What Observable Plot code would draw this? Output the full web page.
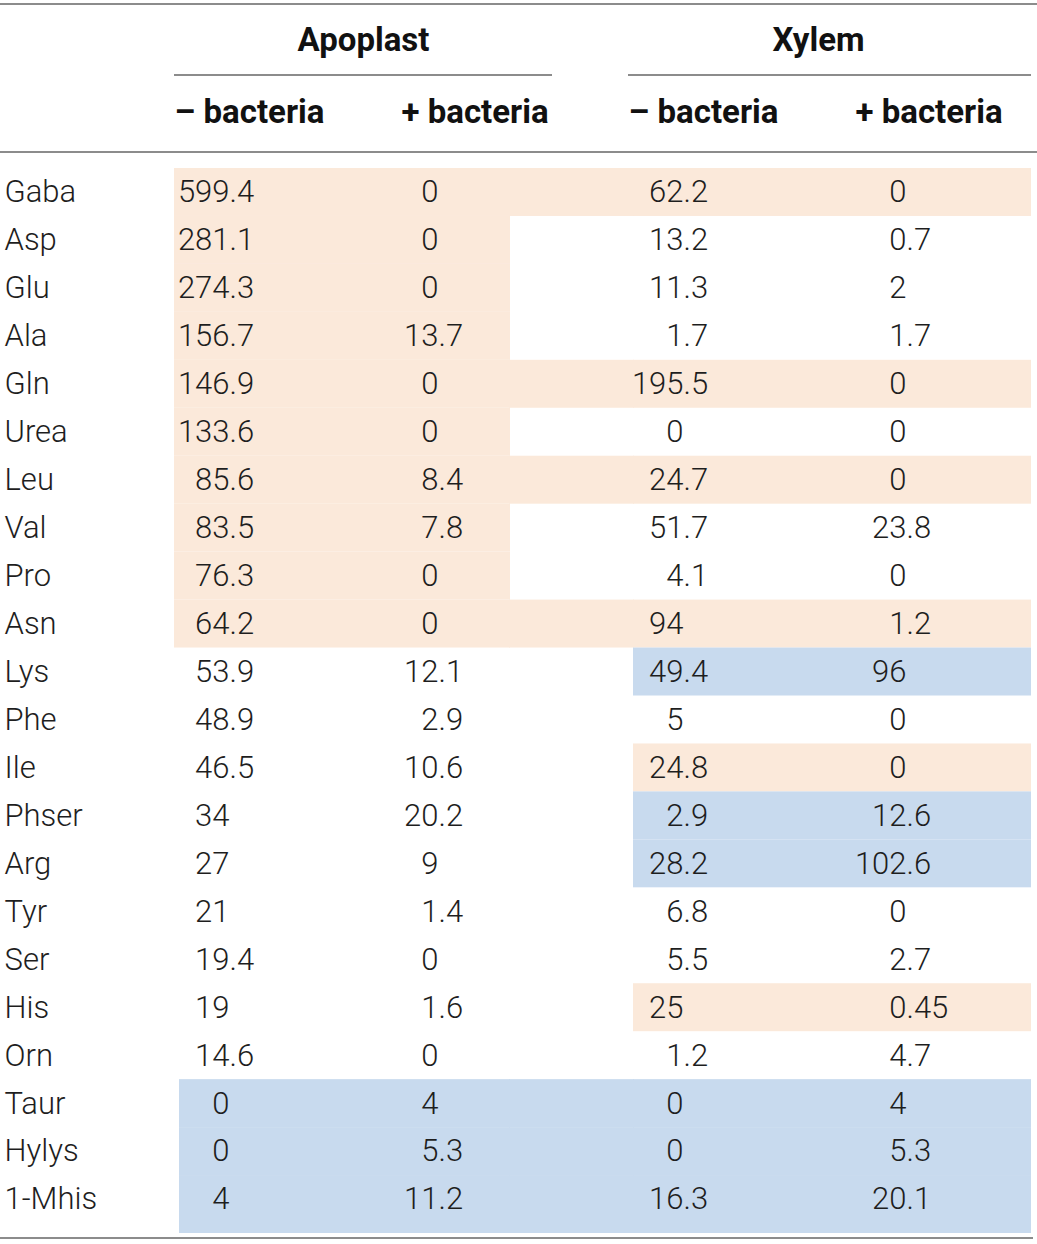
<!DOCTYPE html>
<html><head><meta charset="utf-8">
<script src="https://cdn.jsdelivr.net/npm/d3@7"></script>
<script src="https://cdn.jsdelivr.net/npm/@observablehq/plot@0.6"></script>
<style>body{margin:0;background:#fff;} svg{display:block;}</style>
</head><body><div id="chart"></div>
<script>
// ---- data ----
const aminoAcids = ["Gaba","Asp","Glu","Ala","Gln","Urea","Leu","Val","Pro","Asn","Lys","Phe","Ile","Phser","Arg","Tyr","Ser","His","Orn","Taur","Hylys","1-Mhis"];
const apoplastMinus = [599.4,281.1,274.3,156.7,146.9,133.6,85.6,83.5,76.3,64.2,53.9,48.9,46.5,34,27,21,19.4,19,14.6,0,0,4];
const apoplastPlus  = [0,0,0,13.7,0,0,8.4,7.8,0,0,12.1,2.9,10.6,20.2,9,1.4,0,1.6,0,4,5.3,11.2];
const xylemMinus    = [62.2,13.2,11.3,1.7,195.5,0,24.7,51.7,4.1,94,49.4,5,24.8,2.9,28.2,6.8,5.5,25,1.2,0,0,16.3];
const xylemPlus     = [0,0.7,2,1.7,0,0,0,23.8,0,1.2,96,0,0,12.6,102.6,0,2.7,0.45,4.7,4,5.3,20.1];
const apoplastShade = ["peach","peach","peach","peach","peach","peach","peach","peach","peach","peach","","","","","","","","","","blue","blue","blue"];
const xylemShade    = ["peach","","","","peach","","peach","","","peach","blue","","peach","blue","blue","","","peach","","blue","blue","blue"];
const groups = ["Apoplast","Xylem"];
const treatments = ["– bacteria","+ bacteria"];

// ---- layout / style ----
const W = 1037, H = 1244;
const shadeColor = {peach: "#fbe9da", blue: "#c8daee"};
const shadeStart = {peach: 174, blue: 179};
const ruleColor = "#8c8c8c";
const FONT = "Roboto, 'Liberation Sans', sans-serif";
const BODY = 31, HEAD = 33;
const colKeys = ["apoMinus","apoPlus","xylMinus","xylPlus"];
const colSeries = [apoplastMinus, apoplastPlus, xylemMinus, xylemPlus];
const decimalX = {apoMinus: 229, apoPlus: 438, xylMinus: 683, xylPlus: 906};
const subHeadX = [174, 401, 628, 855];
const groupSpan = {Apoplast: [174, 552], Xylem: [628, 1031]};
const groupCenter = {Apoplast: 363, Xylem: 818};
const shadeSpan = {Apoplast: [174, 510], Xylem: [633, 1031], bridge: [509, 634]};

const cells = [];
aminoAcids.forEach((aa, i) => {
  colKeys.forEach((k, j) => {
    const s = String(colSeries[j][i]);
    const p = s.indexOf(".");
    cells.push({aa, col: k, intPart: p < 0 ? s : s.slice(0, p), fracPart: p < 0 ? "" : s.slice(p)});
  });
});
const lastAA = aminoAcids[aminoAcids.length - 1];
const shades = [];
aminoAcids.forEach((aa, i) => {
  if (apoplastShade[i]) shades.push({aa, span: "Apoplast", c: apoplastShade[i]});
  if (xylemShade[i]) shades.push({aa, span: "Xylem", c: xylemShade[i]});
  if (apoplastShade[i] && apoplastShade[i] === xylemShade[i]) shades.push({aa, span: "bridge", c: xylemShade[i]});
});

const hRule = (x1, x2, yy, t = 2) => Plot.rect([0], {
  x1: () => x1, x2: () => x2, insetTop: yy - t / 2, insetBottom: H - yy - t / 2, fill: ruleColor
});

const shadeMark = (data, extra) => Plot.barX(data, {
  y: "aa",
  x1: d => d.span === "Apoplast" ? shadeStart[d.c] : shadeSpan[d.span][0],
  x2: d => shadeSpan[d.span][1],
  fill: d => shadeColor[d.c], insetTop: 0, insetBottom: 0, ...extra
});

const textStyle = {fontSize: BODY, fill: "#1e1e1e", fontWeight: 300};

const chart = Plot.plot({
  width: W, height: H, margin: 0,
  style: {fontFamily: FONT, background: "#fff"},
  x: {type: "identity", axis: null},
  y: {type: "band", domain: aminoAcids, range: [168, 1223], padding: 0, round: false, axis: null},
  marks: [
    shadeMark(shades.filter(d => d.aa !== lastAA), {}),
    shadeMark(shades.filter(d => d.aa === lastAA), {insetBottom: -10}),
    hRule(0, W, 4),
    hRule(groupSpan.Apoplast[0], groupSpan.Apoplast[1], 75),
    hRule(groupSpan.Xylem[0], groupSpan.Xylem[1], 75),
    hRule(0, W, 152),
    hRule(0, 1033, 1238),
    Plot.text(groups, {x: d => groupCenter[d], text: d => d, frameAnchor: "top", lineAnchor: "middle", dy: 40,
      fontSize: HEAD, fontWeight: "bold", fill: "#111"}),
    Plot.text([0,1,2,3], {x: i => subHeadX[i], text: i => treatments[i % 2], frameAnchor: "top", lineAnchor: "middle", dy: 112,
      textAnchor: "start", fontSize: HEAD, fontWeight: "bold", fill: "#111"}),
    Plot.text(aminoAcids, {x: () => 4, y: d => d, text: d => d, textAnchor: "start", ...textStyle}),
    Plot.text(cells, {x: d => decimalX[d.col], y: "aa", text: "intPart", textAnchor: "end", ...textStyle}),
    Plot.text(cells.filter(d => d.fracPart), {x: d => decimalX[d.col], y: "aa", text: "fracPart", textAnchor: "start", ...textStyle})
  ]
});
document.getElementById("chart").appendChild(chart);
</script>
</body></html>
